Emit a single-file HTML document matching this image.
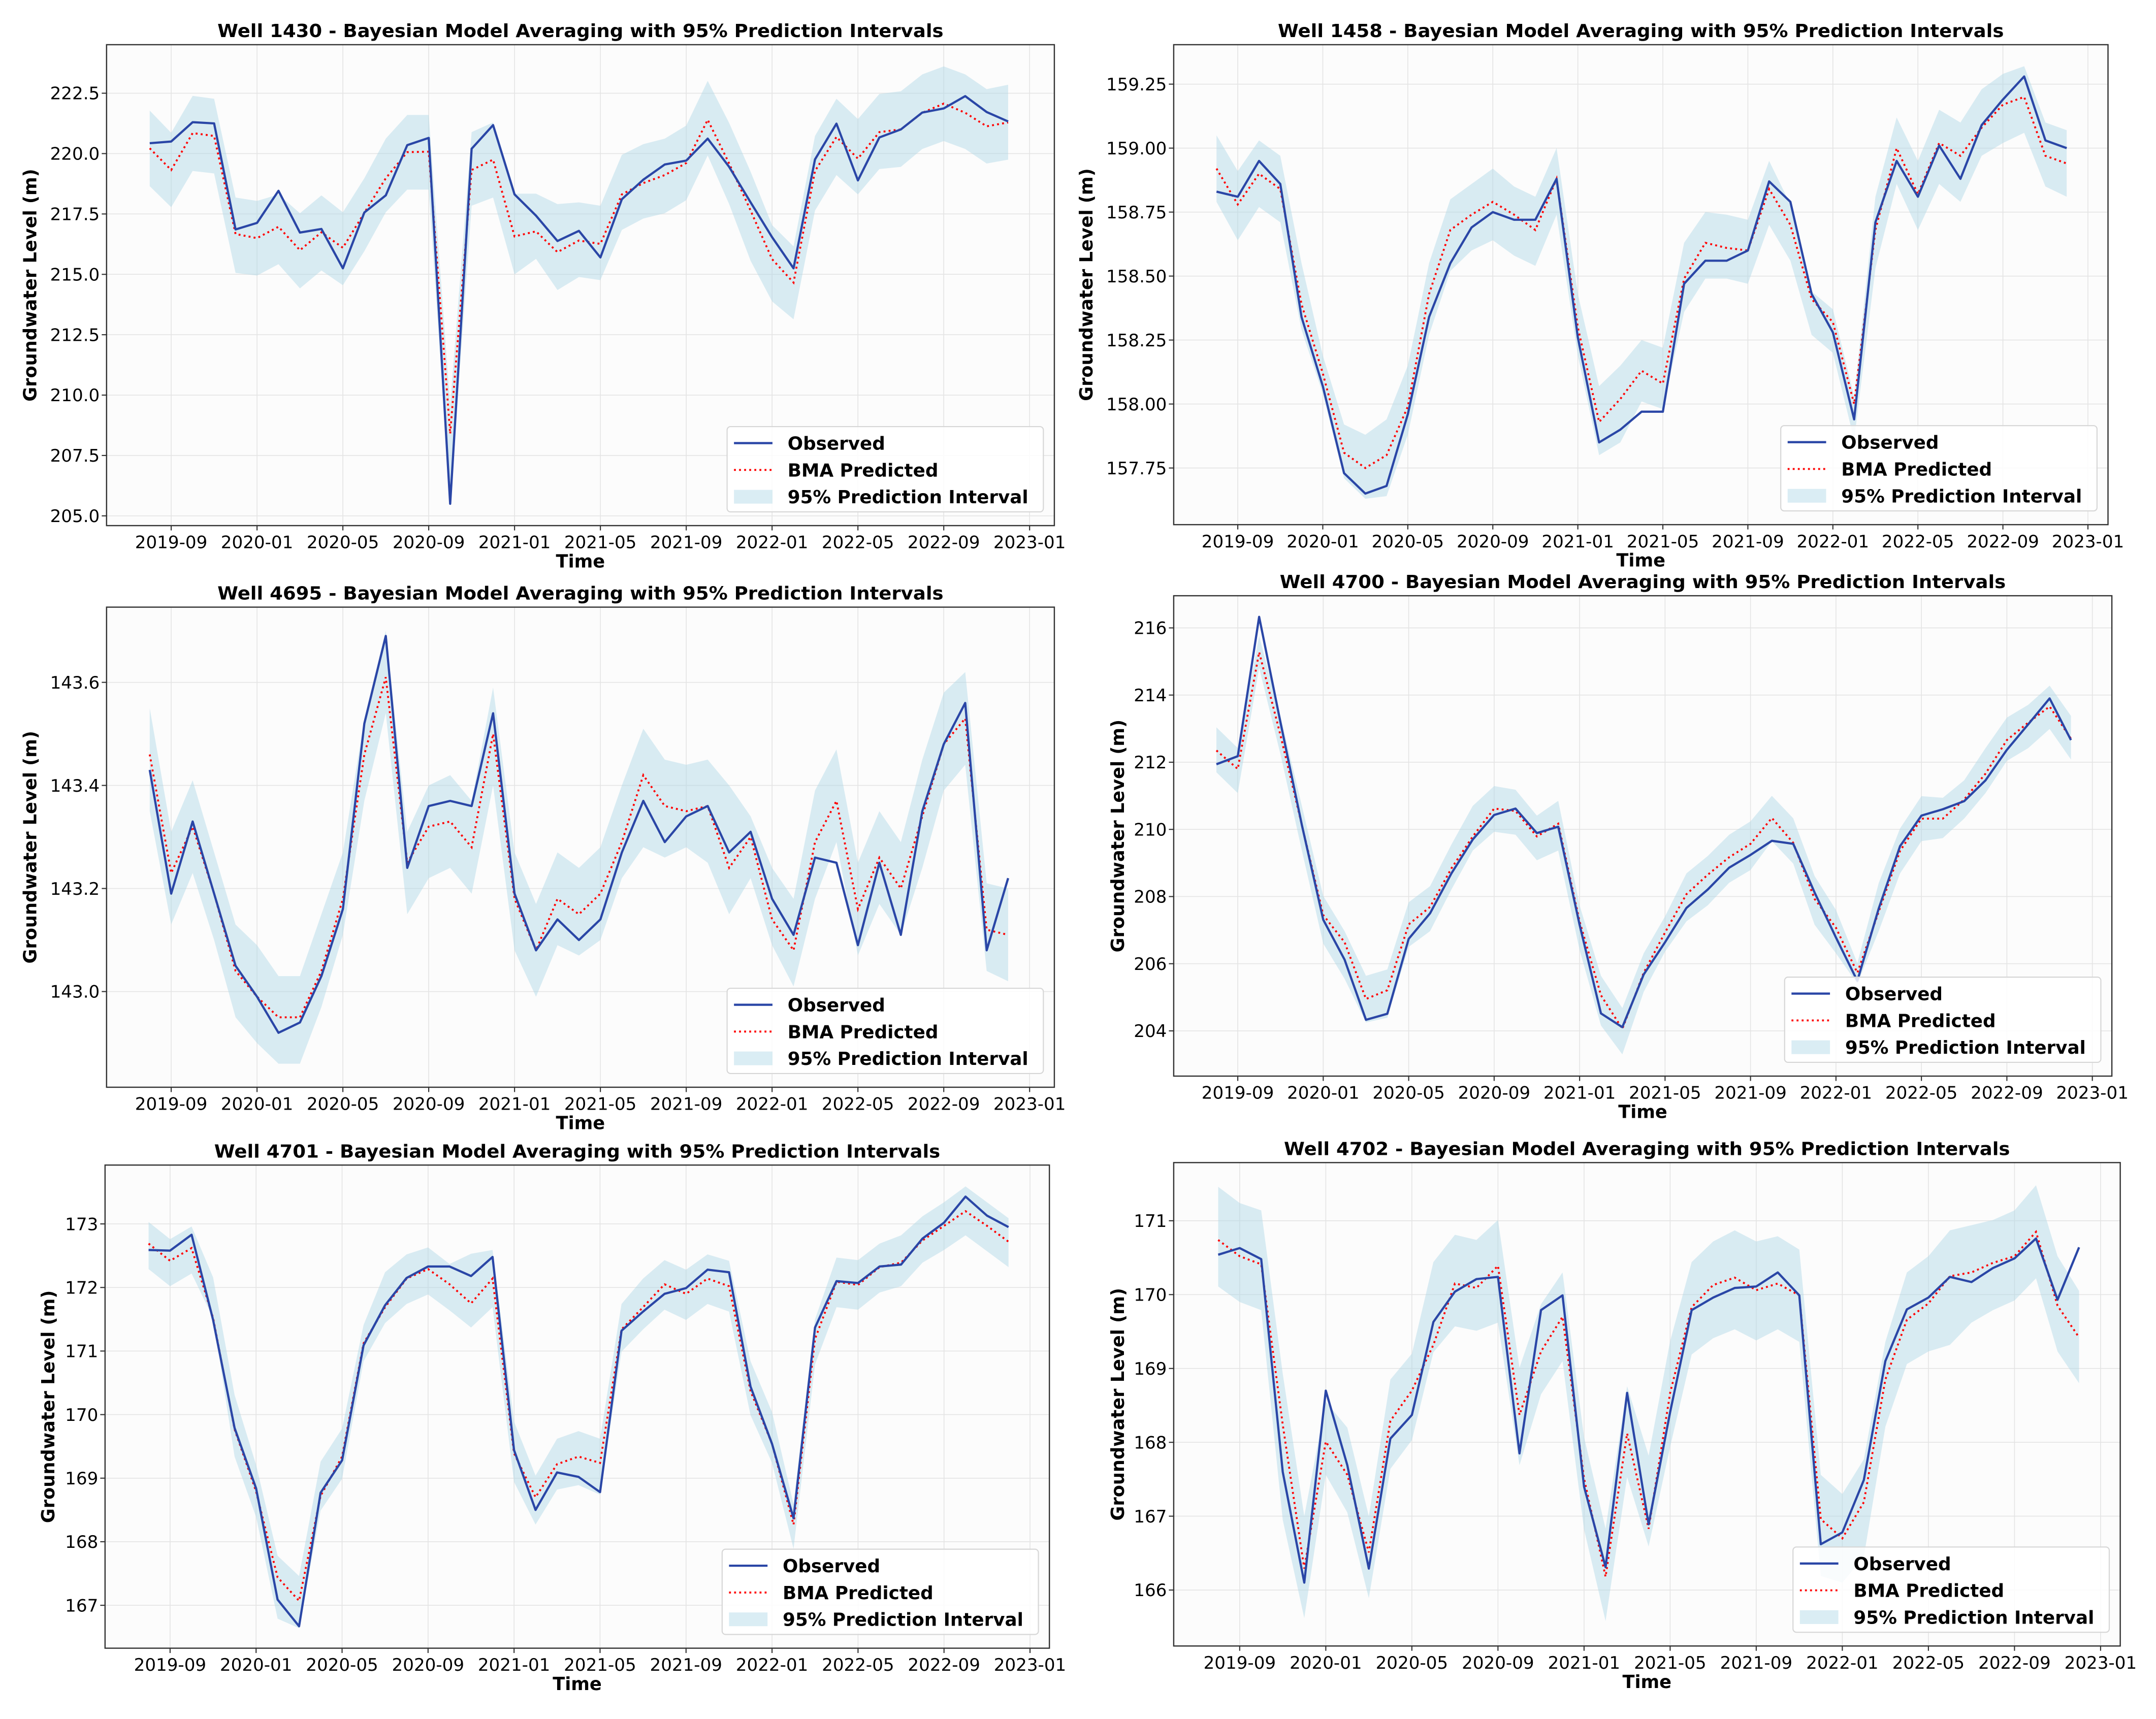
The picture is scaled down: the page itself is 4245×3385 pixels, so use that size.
<!DOCTYPE html>
<html><head><meta charset="utf-8"><style>
html,body{margin:0;padding:0;background:#fff;}
svg{display:block;font-family:"DejaVu Sans","Liberation Sans",sans-serif;}
</style></head><body>
<svg id="fig" xmlns="http://www.w3.org/2000/svg" width="4245" height="3385" viewBox="0 0 1568 1250.3" preserveAspectRatio="none"></svg>
<script>
// ---- data (monthly 2019-08 .. 2022-12) ----
const wellNames = ["1430","1458","4695","4700","4701","4702"];
const xTickLabels = ["2019-09","2020-01","2020-05","2020-09","2021-01","2021-05","2021-09","2022-01","2022-05","2022-09","2023-01"];

const obs1430 = [220.43,220.5,221.3,221.25,216.86,217.13,218.46,216.73,216.88,215.25,217.56,218.27,220.35,220.65,205.5,220.2,221.18,218.31,217.43,216.38,216.8,215.7,218.11,218.92,219.55,219.71,220.62,219.45,217.98,216.54,215.25,219.76,221.24,218.89,220.67,221.0,221.7,221.87,222.38,221.72,221.33];
const pred1430 = [220.22,219.32,220.85,220.73,216.67,216.5,216.97,216.0,216.74,216.1,217.55,218.98,220.06,220.08,208.4,219.32,219.75,216.57,216.78,215.92,216.4,216.26,218.31,218.78,219.11,219.61,221.4,219.59,217.64,215.63,214.66,219.28,220.69,219.79,220.89,221.0,221.69,222.07,221.69,221.13,221.29];
const up1430 = [221.78,220.86,222.39,222.27,218.18,218.04,218.31,217.53,218.27,217.57,218.98,220.62,221.6,221.6,209.6,220.89,221.29,218.34,218.34,217.91,217.98,217.84,219.95,220.39,220.62,221.16,223.01,221.27,219.25,217.04,216.16,220.73,222.27,221.43,222.47,222.58,223.28,223.61,223.28,222.67,222.85];
const lo1430 = [218.65,217.78,219.28,219.18,215.06,214.95,215.42,214.42,215.16,214.55,215.96,217.57,218.51,218.51,205.43,217.84,218.18,215.0,215.64,214.35,214.89,214.76,216.84,217.31,217.53,218.07,219.92,217.91,215.56,213.88,213.14,217.64,219.11,218.31,219.36,219.45,220.19,220.52,220.19,219.59,219.75];

const obs1458 = [158.83,158.81,158.95,158.86,158.34,158.07,157.73,157.65,157.68,157.96,158.34,158.55,158.69,158.75,158.72,158.72,158.88,158.26,157.85,157.90,157.97,157.97,158.47,158.56,158.56,158.60,158.87,158.79,158.43,158.28,157.94,158.71,158.95,158.81,159.01,158.88,159.09,159.19,159.28,159.03,159.0];
const pred1458 = [158.92,158.78,158.90,158.84,158.39,158.12,157.81,157.75,157.80,157.99,158.43,158.68,158.74,158.79,158.74,158.68,158.88,158.30,157.93,158.02,158.13,158.08,158.49,158.63,158.61,158.60,158.84,158.70,158.41,158.32,158.0,158.68,159.0,158.82,159.02,158.97,159.08,159.17,159.2,158.97,158.94];
const up1458 = [159.05,158.91,159.03,158.97,158.55,158.19,157.92,157.88,157.94,158.15,158.55,158.80,158.86,158.92,158.85,158.81,159.0,158.43,158.07,158.15,158.25,158.22,158.63,158.75,158.74,158.72,158.95,158.78,158.44,158.37,158.03,158.81,159.12,158.95,159.15,159.10,159.23,159.29,159.32,159.10,159.07];
const lo1458 = [158.79,158.64,158.77,158.71,158.29,158.04,157.71,157.63,157.64,157.88,158.27,158.52,158.60,158.64,158.58,158.54,158.74,158.19,157.80,157.85,158.01,157.98,158.36,158.49,158.49,158.47,158.70,158.56,158.27,158.20,157.86,158.53,158.86,158.68,158.86,158.79,158.97,159.02,159.06,158.85,158.81];

const obs4695 = [143.43,143.19,143.33,143.19,143.05,142.99,142.92,142.94,143.03,143.16,143.52,143.69,143.24,143.36,143.37,143.36,143.54,143.19,143.08,143.14,143.10,143.14,143.27,143.37,143.29,143.34,143.36,143.27,143.31,143.18,143.11,143.26,143.25,143.09,143.25,143.11,143.35,143.48,143.56,143.08,143.22];
const pred4695 = [143.46,143.23,143.32,143.19,143.04,142.99,142.95,142.95,143.04,143.18,143.46,143.61,143.25,143.32,143.33,143.28,143.50,143.18,143.08,143.18,143.15,143.19,143.29,143.42,143.36,143.35,143.36,143.24,143.30,143.14,143.08,143.29,143.37,143.16,143.26,143.20,143.34,143.48,143.53,143.12,143.11];
const up4695 = [143.55,143.31,143.41,143.27,143.13,143.09,143.03,143.03,143.15,143.27,143.53,143.70,143.31,143.40,143.42,143.37,143.59,143.27,143.17,143.27,143.24,143.28,143.40,143.51,143.45,143.44,143.45,143.40,143.34,143.24,143.18,143.39,143.47,143.25,143.35,143.29,143.45,143.58,143.62,143.21,143.20];
const lo4695 = [143.35,143.13,143.23,143.10,142.95,142.90,142.86,142.86,142.97,143.11,143.37,143.54,143.15,143.22,143.24,143.19,143.40,143.08,142.99,143.09,143.07,143.10,143.22,143.28,143.26,143.28,143.25,143.15,143.22,143.09,143.01,143.18,143.29,143.07,143.17,143.11,143.24,143.39,143.44,143.04,143.02];

const obs4700 = [211.94,212.18,216.33,213.18,210.13,207.31,206.12,204.33,204.51,206.74,207.50,208.69,209.70,210.43,210.62,209.89,210.08,207.16,204.52,204.11,205.68,206.64,207.66,208.21,208.86,209.24,209.66,209.57,208.12,206.78,205.49,207.64,209.50,210.41,210.60,210.84,211.46,212.37,213.13,213.90,212.66];
const pred4700 = [212.35,211.80,215.28,212.80,210.13,207.45,206.64,204.95,205.21,207.17,207.69,208.84,209.79,210.62,210.55,209.79,210.17,207.26,205.06,204.06,205.73,206.93,208.07,208.65,209.17,209.57,210.34,209.60,207.93,207.07,205.73,207.55,209.36,210.32,210.32,210.89,211.66,212.66,213.18,213.66,212.70];
const up4700 = [213.04,212.42,215.76,213.37,210.70,208.02,206.97,205.64,205.83,207.83,208.31,209.55,210.70,211.29,211.18,210.41,210.85,207.74,205.64,204.68,206.31,207.41,208.69,209.21,209.84,210.24,211.00,210.33,208.61,207.60,206.02,208.40,210.03,210.99,210.94,211.46,212.42,213.33,213.71,214.28,213.38];
const lo4700 = [211.70,211.08,214.81,212.23,209.37,206.60,205.55,204.25,204.39,206.50,206.97,208.21,209.37,209.93,209.84,209.08,209.37,206.41,204.16,203.30,205.16,206.36,207.26,207.74,208.41,208.79,209.65,208.98,207.16,206.31,205.40,206.97,208.69,209.65,209.74,210.32,211.08,212.04,212.42,212.99,212.08];

const obs4701 = [172.59,172.58,172.83,171.49,169.79,168.84,167.09,166.67,168.77,169.28,171.09,171.72,172.15,172.33,172.33,172.18,172.48,169.44,168.5,169.09,169.02,168.78,171.32,171.62,171.90,171.99,172.28,172.24,170.44,169.54,168.37,171.37,172.1,172.07,172.33,172.36,172.77,173.02,173.43,173.13,172.95];
const pred4701 = [172.69,172.42,172.62,171.52,169.77,168.79,167.44,167.07,168.72,169.34,171.12,171.69,172.14,172.29,172.05,171.75,172.14,169.39,168.7,169.22,169.34,169.24,171.34,171.69,172.05,171.9,172.14,172.02,170.37,169.54,168.27,171.19,172.09,172.04,172.32,172.39,172.74,172.97,173.2,172.97,172.72];
const up4701 = [173.03,172.76,172.96,172.16,170.31,169.21,167.78,167.46,169.26,169.78,171.41,172.24,172.52,172.63,172.37,172.53,172.59,169.89,169.04,169.62,169.74,169.62,171.74,172.14,172.43,172.28,172.52,172.42,170.84,170.04,168.59,171.5,172.47,172.43,172.69,172.82,173.12,173.34,173.59,173.34,173.09];
const lo4701 = [172.29,172.02,172.22,171.52,169.34,168.39,166.79,166.64,168.49,168.99,170.84,171.44,171.74,171.89,171.64,171.37,171.69,168.94,168.27,168.82,168.89,168.74,170.99,171.34,171.65,171.49,171.74,171.62,169.99,169.24,167.89,170.79,171.69,171.65,171.92,172.02,172.39,172.59,172.82,172.57,172.32];

const obs4702 = [170.54,170.63,170.48,167.6,166.1,168.7,167.69,166.29,168.05,168.37,169.63,170.04,170.21,170.24,167.85,169.79,169.99,167.40,166.31,168.67,166.89,168.41,169.79,169.96,170.09,170.11,170.3,169.99,166.62,166.78,167.49,169.1,169.8,169.96,170.24,170.17,170.36,170.49,170.76,169.93,170.64];
const pred4702 = [170.74,170.52,170.41,168.24,166.29,168.01,167.56,166.51,168.29,168.7,169.32,170.15,170.09,170.39,168.37,169.23,169.7,167.51,166.18,168.12,166.83,168.67,169.83,170.13,170.23,170.06,170.15,169.99,166.96,166.7,167.19,168.85,169.66,169.88,170.25,170.3,170.43,170.52,170.85,169.85,169.42];
const up4702 = [171.46,171.24,171.14,168.93,167.0,168.55,168.2,167.0,168.85,169.2,170.44,170.81,170.74,171.01,169.01,169.87,170.3,168.07,166.83,168.76,167.82,169.37,170.44,170.72,170.87,170.72,170.79,170.61,167.56,167.3,167.77,169.36,170.3,170.52,170.87,170.94,171.01,171.14,171.48,170.52,170.05];
const lo4702 = [170.11,169.9,169.79,166.95,165.62,167.56,167.05,165.89,167.64,168.03,169.22,169.57,169.51,169.62,167.69,168.65,169.1,166.82,165.58,167.53,166.59,167.94,169.19,169.41,169.53,169.38,169.53,169.36,166.19,166.1,166.45,168.21,169.06,169.23,169.32,169.62,169.79,169.92,170.22,169.23,168.8];

const yTicks1430 = [205,207.5,210,212.5,215,217.5,220,222.5];
const yTicks1458 = [157.75,158,158.25,158.5,158.75,159,159.25];
const yTicks4695 = [143.0,143.2,143.4,143.6];
const yTicks4700 = [204,206,208,210,212,214,216];
const yTicks4701 = [167,168,169,170,171,172,173];
const yTicks4702 = [166,167,168,169,170,171];

const obsSeries = [obs1430,obs1458,obs4695,obs4700,obs4701,obs4702];
const predSeries = [pred1430,pred1458,pred4695,pred4700,pred4701,pred4702];
const upSeries = [up1430,up1458,up4695,up4700,up4701,up4702];
const loSeries = [lo1430,lo1458,lo4695,lo4700,lo4701,lo4702];
const tickSets = [yTicks1430,yTicks1458,yTicks4695,yTicks4700,yTicks4701,yTicks4702];
const tickDecimals = [1,2,1,0,0,0];

// ---- layout (pixel geometry, not data) ----
const layout = [
 {f:[77.5,32.5,766.8,382.3], xa:[124.5,748.8], ya:[222.5,67.8,205,375.2], yl:22},
 {f:[853.6,32.5,1533.1,381.6], xa:[900.2,1518.5], ya:[159.25,61.2,157.75,340.4], yl:790},
 {f:[77.5,441.6,766.8,790.8], xa:[124.5,748.8], ya:[143.6,496.3,143.0,721.2], yl:22},
 {f:[853.6,433.3,1535.9,782.7], xa:[900.2,1521.7], ya:[216,456.7,204,749.8], yl:813},
 {f:[76.4,847.4,763.2,1198.8], xa:[123.7,749.1], ya:[173,890.2,167,1167.6], yl:35},
 {f:[853.6,845.6,1542,1197.2], xa:[901.6,1527.7], ya:[171,887.9,166,1156.5], yl:813}
];

const NS = "http://www.w3.org/2000/svg";
const fig = document.getElementById('fig');
function mk(tag, attrs, parent){ const e=document.createElementNS(NS,tag); for(const k in attrs) e.setAttribute(k,attrs[k]); (parent||fig).appendChild(e); return e; }

layout.forEach((L,p)=>{
  const [x0,y0,x1,y1]=L.f;
  const g = mk('g',{});
  
  
  const xs = i => L.xa[0] + (i-1)*(L.xa[1]-L.xa[0])/40;
  const ys = v => L.ya[1] + (v-L.ya[0])*(L.ya[3]-L.ya[1])/(L.ya[2]-L.ya[0]);
  const bg = mk('rect',{x:x0,y:y0,width:x1-x0,height:y1-y0,fill:'#fcfcfc'},g);
  
  
  // grid + x ticks
  xTickLabels.forEach((lab,k)=>{
    const x = xs(1+4*k);
    const gl = mk('line',{x1:x,x2:x,y1:y0,y2:y1,stroke:'#e4e4e4','stroke-width':0.6},g);
    
    
    mk('line',{x1:x,x2:x,y1:y1,y2:y1+3.5,stroke:'#333','stroke-width':0.8},g);
    const t = mk('text',{x:x,y:y1+16.5,'text-anchor':'middle','font-size':12.6,fill:'#000'},g);
    t.textContent = lab;
    
    
  });
  tickSets[p].forEach(v=>{
    const y = ys(v);
    const gl = mk('line',{x1:x0,x2:x1,y1:y,y2:y,stroke:'#e4e4e4','stroke-width':0.6},g);
    
    
    mk('line',{x1:x0-3.5,x2:x0,y1:y,y2:y,stroke:'#333','stroke-width':0.8},g);
    const t = mk('text',{x:x0-5,y:y+4.5,'text-anchor':'end','font-size':12.6,fill:'#000'},g);
    t.textContent = v.toFixed(tickDecimals[p]);
    
    
  });
  // band
  const up = upSeries[p], lo = loSeries[p];
  let d = '';
  up.forEach((v,i)=>{ d += (i?'L':'M')+xs(i).toFixed(2)+','+ys(v).toFixed(2); });
  for(let i=lo.length-1;i>=0;i--) d += 'L'+xs(i).toFixed(2)+','+ys(lo[i]).toFixed(2);
  const band = mk('path',{d:d+'Z',fill:'#add8e6','fill-opacity':0.45,stroke:'none'},g);
  
  
  // predicted
  const pp = predSeries[p].map((v,i)=>xs(i).toFixed(2)+','+ys(v).toFixed(2)).join(' ');
  const pl = mk('polyline',{points:pp,fill:'none',stroke:'#ff0000','stroke-width':1.4,'stroke-dasharray':'1.4,2.3'},g);
  
  
  // observed
  const op = obsSeries[p].map((v,i)=>xs(i).toFixed(2)+','+ys(v).toFixed(2)).join(' ');
  const ol = mk('polyline',{points:op,fill:'none',stroke:'#2a46a6','stroke-width':1.6,'stroke-linejoin':'round'},g);
  
  
  // frame
  const fr = mk('rect',{x:x0,y:y0,width:x1-x0,height:y1-y0,fill:'none',stroke:'#333','stroke-width':0.9},g);
  
  
  // title
  const tt = mk('text',{x:(x0+x1)/2,y:y0-5.5,'text-anchor':'middle','font-size':13,'font-weight':'bold',fill:'#000',textLength:528,lengthAdjust:'spacingAndGlyphs'},g);
  tt.textContent = 'Well '+wellNames[p]+' - Bayesian Model Averaging with 95% Prediction Intervals';
  
  
  // axis labels
  const xl = mk('text',{x:(x0+x1)/2,y:y1+30.5,'text-anchor':'middle','font-size':13,'font-weight':'bold',fill:'#000'},g);
  xl.textContent = 'Time';
  
  
  const cy = (y0+y1)/2;
  const yl = mk('text',{x:L.yl+4.5,y:cy,'text-anchor':'middle','font-size':13,'font-weight':'bold',fill:'#000',transform:'rotate(-90 '+(L.yl+4.5)+' '+cy+')'},g);
  yl.textContent = 'Groundwater Level (m)';
  
  
  // legend
  const lw=230, lh=62, lx=x1-8-lw, ly=y1-10-lh;
  const lg = mk('g',{},g);
  
  
  mk('rect',{x:lx,y:ly,width:lw,height:lh,rx:2.5,fill:'#fff','fill-opacity':0.85,stroke:'#d6d6d6','stroke-width':0.8},lg);
  const rows = [['Observed','obs'],['BMA Predicted','pred'],['95% Prediction Interval','band']];
  rows.forEach((r,k)=>{
    const ry = ly+12+k*19.5;
    let h;
    if(r[1]==='obs') h = mk('line',{x1:lx+5,x2:lx+33,y1:ry,y2:ry,stroke:'#2a46a6','stroke-width':1.6},lg);
    else if(r[1]==='pred') h = mk('line',{x1:lx+5,x2:lx+33,y1:ry,y2:ry,stroke:'#ff0000','stroke-width':1.4,'stroke-dasharray':'1.4,2.3'},lg);
    else h = mk('rect',{x:lx+5,y:ry-5,width:28,height:10,fill:'#add8e6','fill-opacity':0.45},lg);
    
    
    const t = mk('text',{x:lx+44,y:ry+4.8,'font-size':13.2,'font-weight':'bold',fill:'#000'},lg);
    t.textContent = r[0];
    
    
  });
});
</script>
</body></html>
